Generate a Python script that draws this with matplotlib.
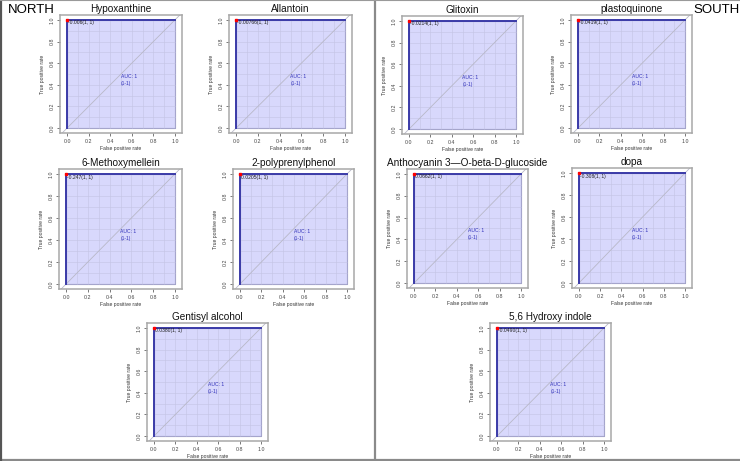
import matplotlib

matplotlib.use("Agg")
import matplotlib.pyplot as plt
import numpy as np

W, H = 740, 461

titles = [
    "Hypoxanthine", "Allantoin", "Glitoxin", "plastoquinone",
    "6-Methoxymellein", "2-polyprenylphenol",
    "Anthocyanin 3\u2014O-beta-D-glucoside", "dopa",
    "Gentisyl alcohol", "5,6 Hydroxy indole",
]
thresholds = [
    "-0.006(1, 1)", "-0.00766(1, 1)", "-0.0214(1, 1)", "-0.0419(1, 1)",
    "-0.247(1, 1)", "0.0205(1, 1)", "0.0662(1, 1)", "-0.308(1, 1)",
    "0.0380(1, 1)", "-0.0490(1, 1)",
]
# every panel shows a perfect classifier
fpr = [0.0, 0.0, 1.0]
tpr = [0.0, 1.0, 1.0]
auc_text = "AUC: 1\n(1-1)"
tick_vals = [0.0, 0.2, 0.4, 0.6, 0.8, 1.0]

# frame of each panel in pixels: left, top, width, height
boxes = [
    (60, 15, 122, 118), (229, 15, 123, 118), (402, 16, 121, 118), (571, 15, 121, 118),
    (59, 169, 123, 120), (233, 169, 121, 120), (407, 169, 121, 119), (572, 168, 120, 120),
    (147, 323, 121, 118), (490, 323, 121, 118),
]

FILL = "#d8d8fc"
LINE = "#3a3aa8"
FONT = "Liberation Sans"

fig = plt.figure(figsize=(W / 100, H / 100), dpi=100)

for title, thr, (left, top, w, h) in zip(titles, thresholds, boxes):
    ax = fig.add_axes([left / W, 1 - (top + h) / H, w / W, h / H])
    ax.set_xlim(-0.065, 1.065)
    ax.set_ylim(-0.045, 1.045)

    ax.fill_between(fpr, tpr, 0, color=FILL, edgecolor="#8080b0", linewidth=0.8, zorder=1)
    grid = np.linspace(0, 1, 11)
    ax.vlines(grid, 0, 1, color="#c4c4e4", linewidth=0.4, zorder=2)
    ax.hlines(grid, 0, 1, color="#c4c4e4", linewidth=0.4, zorder=2)
    ax.axline((0, 0), (1, 1), color="#b8b8c8", linewidth=0.6, zorder=2)
    ax.plot(fpr, tpr, color=LINE, linewidth=1.4, zorder=3)
    ax.plot(fpr[1], tpr[1], "s", color="red", markersize=1.7, zorder=4)

    ax.text(fpr[1] + 0.01, tpr[1] - 0.005, thr, fontsize=3.6, va="top", ha="left",
            color="#222222", family=FONT)
    ax.text(0.5, 0.5, auc_text, fontsize=3.6, va="top", ha="left", color="#3333bb",
            family=FONT, linespacing=1.5)

    ax.set_xticks(tick_vals)
    ax.set_yticks(tick_vals)
    ax.set_xticklabels([f"{v:.1f}" for v in tick_vals], family=FONT)
    ax.set_yticklabels([f"{v:.1f}" for v in tick_vals], rotation=90, va="center", family=FONT)
    ax.tick_params(length=2, width=0.5, pad=2, labelsize=3.8, colors="#444444")
    ax.set_xlabel("False positive rate", fontsize=3.6, labelpad=2, family=FONT, color="#333333")
    ax.set_ylabel("True positive rate", fontsize=3.6, labelpad=3, family=FONT, color="#333333")
    for sp in ax.spines.values():
        sp.set_color("#a8a8a8")
        sp.set_linewidth(1.1)

    fig.text((left + w / 2) / W, 1 - (top - 1) / H, title, fontsize=7.2, ha="center",
             va="bottom", family=FONT, color="#111111")

fig.text(8 / W, 1 - 16 / H, "NORTH", fontsize=9.5, ha="left", va="bottom", family=FONT)
fig.text(693 / W, 1 - 16 / H, "SOUTH", fontsize=9.5, ha="left", va="bottom", family=FONT)

# left border, centre divider and bottom rule
fig.add_artist(plt.Line2D([375 / W, 375 / W], [1 / H, 1], color="#8a8a8a", linewidth=1.6))
fig.add_artist(plt.Line2D([0, 1], [1.5 / H, 1.5 / H], color="#8a8a8a", linewidth=1.6))
fig.add_artist(plt.Line2D([1 / W, 1 / W], [0, 1], color="#555555", linewidth=1.6))
fig.add_artist(plt.Line2D([0, 1], [1 - 0.5 / H, 1 - 0.5 / H], color="#9a9a9a", linewidth=0.8))

fig.savefig("out.png", dpi=100)
